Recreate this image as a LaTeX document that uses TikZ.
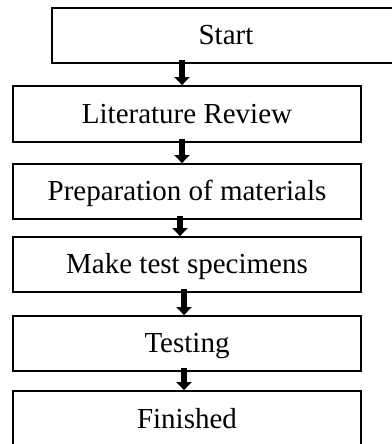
\documentclass[tikz,border=0pt]{standalone}
\usepackage{fontspec}
\setmainfont{Liberation Serif}
\usetikzlibrary{arrows.meta}
\tikzset{
  stepbox/.style={draw=black, line width=1.8pt, fill=white, inner sep=0pt,
    minimum width=348pt, minimum height=55pt, text height=19pt, text depth=0pt,
    font=\fontsize{29}{34}\selectfont},
  steptext/.style={inner sep=0pt, text height=19pt, text depth=0pt,
    font=\fontsize{29}{34}\selectfont},
  flowarrow/.style={line width=6pt, -{Triangle[width=15pt,length=8pt]}}
}
\begin{document}
\begin{tikzpicture}[x=1pt,y=1pt]
\useasboundingbox (0,0) rectangle (391,444);
\node[stepbox, minimum width=400pt] (start) at (252,408.5) {};
\node[steptext] (starttext) at (226,408.5) {Start};
\node[stepbox, minimum height=56pt] (lit) at (187,330) {Literature Review};
\node[stepbox] (prep) at (187,252.5) {Preparation of materials};
\node[stepbox] (make) at (187,179.5) {Make test specimens};
\node[stepbox] (test) at (187,100.5) {Testing};
\node[stepbox] (fin) at (187,25.5) {Finished};
\coordinate (x1) at (182,0);
\coordinate (x2) at (182,0);
\coordinate (x3) at (180,0);
\coordinate (x4) at (184,0);
\coordinate (x5) at (184,0);
\draw[flowarrow] ([yshift=4pt]x1 |- start.south) -- (x1 |- lit.north);
\draw[flowarrow] ([yshift=4pt]x2 |- lit.south) -- (x2 |- prep.north);
\draw[flowarrow] ([yshift=4pt]x3 |- prep.south) -- (x3 |- make.north);
\draw[flowarrow] ([yshift=4pt]x4 |- make.south) -- (x4 |- test.north);
\draw[flowarrow] ([yshift=4pt]x5 |- test.south) -- (x5 |- fin.north);
\end{tikzpicture}
\end{document}
